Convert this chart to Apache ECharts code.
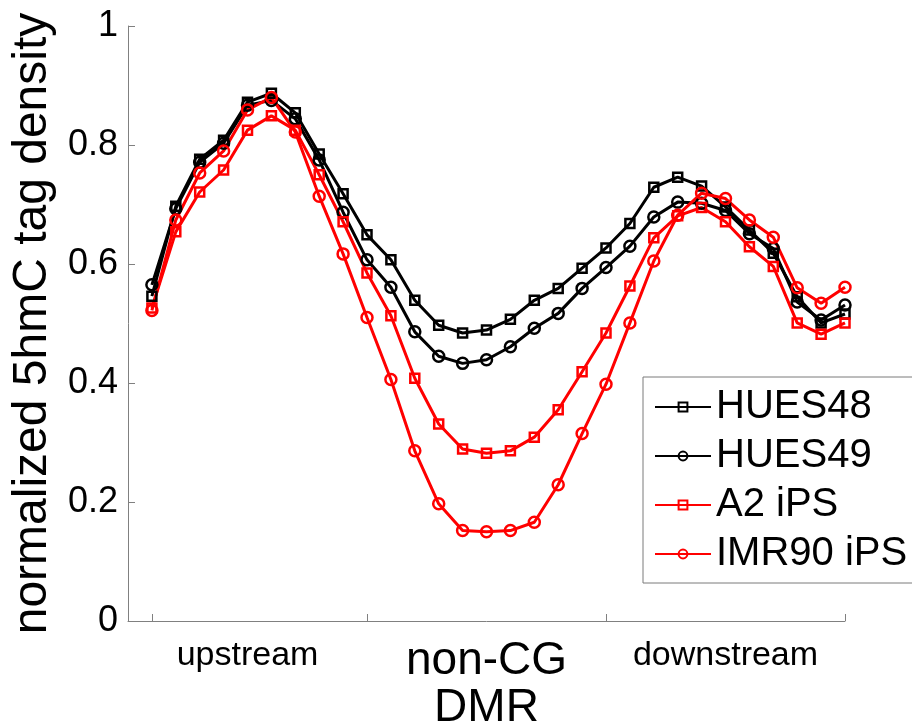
<!DOCTYPE html>
<html>
<head>
<meta charset="utf-8">
<script src="https://cdn.jsdelivr.net/npm/echarts@6/dist/echarts.min.js"></script>
<style>
html,body{margin:0;padding:0;background:#fff;}
#chart{width:912px;height:727px;}
</style>
</head>
<body>
<div id="chart"></div>
<script>
// ---- data ----
const positions = [1,2,3,4,5,6,7,8,9,10,11,12,13,14,15,16,17,18,19,20,21,22,23,24,25,26,27,28,29,30];
const seriesNames = ['HUES48', 'HUES49', 'A2 iPS', 'IMR90 iPS'];
const hues48 = [0.546,0.697,0.776,0.808,0.872,0.887,0.854,0.785,0.718,0.649,0.607,0.539,0.497,0.484,0.489,0.507,0.539,0.559,0.593,0.627,0.668,0.729,0.746,0.731,0.696,0.657,0.618,0.545,0.501,0.516];
const hues49 = [0.565,0.693,0.771,0.803,0.867,0.875,0.844,0.775,0.687,0.607,0.561,0.486,0.445,0.433,0.439,0.461,0.492,0.517,0.559,0.594,0.630,0.679,0.704,0.702,0.690,0.651,0.626,0.536,0.506,0.531];
const a2ips = [0.526,0.654,0.721,0.758,0.825,0.849,0.825,0.750,0.671,0.585,0.513,0.408,0.331,0.289,0.282,0.286,0.309,0.355,0.419,0.484,0.563,0.644,0.681,0.695,0.671,0.629,0.596,0.501,0.482,0.501];
const imr90ips = [0.522,0.674,0.753,0.790,0.859,0.880,0.822,0.714,0.617,0.510,0.406,0.286,0.197,0.152,0.150,0.152,0.166,0.229,0.315,0.398,0.501,0.605,0.682,0.719,0.710,0.674,0.645,0.560,0.534,0.561];
const sectionTicks = [1, 10, 20, 30];
const sectionLabelAt = [5, 15, 25];
const sectionLabels = ['upstream', 'non-CG\nDMR', 'downstream'];
const yTicks = [0, 0.2, 0.4, 0.6, 0.8, 1];
const yTitle = 'normalized 5hmC tag density';

// ---- chart ----
const FONT = '"Liberation Sans", Arial, Helvetica, sans-serif';
const chart = echarts.init(document.getElementById('chart'), null, {renderer: 'canvas'});

function pairs(vals) { return positions.map((x, i) => [x, vals[i]]); }

const styles = [
  {color: '#000000', symbol: 'rect', size: 9},
  {color: '#000000', symbol: 'circle', size: 11},
  {color: '#ff0000', symbol: 'rect', size: 9},
  {color: '#ff0000', symbol: 'circle', size: 11}
];
const valueSets = [hues48, hues49, a2ips, imr90ips];

const series = seriesNames.map((name, i) => ({
  name: name,
  type: 'line',
  data: pairs(valueSets[i]),
  symbol: styles[i].symbol,
  symbolSize: styles[i].size,
  showAllSymbol: true,
  animation: false,
  lineStyle: {color: styles[i].color, width: 3},
  itemStyle: {color: 'rgba(255,255,255,0)', borderColor: styles[i].color, borderWidth: 2.5},
  emphasis: {disabled: true}
}));

chart.setOption({
  backgroundColor: '#ffffff',
  animation: false,
  textStyle: {fontFamily: FONT},
  grid: {left: 128, top: 26, right: 67, bottom: 106, containLabel: false, outerBoundsMode: 'none'},
  legend: {
    orient: 'vertical',
    left: 643,
    top: 377,
    padding: [10, 14, 9, 11],
    itemGap: 9,
    itemWidth: 56,
    itemHeight: 11,
    backgroundColor: '#ffffff',
    borderColor: '#7a7a7a',
    borderWidth: 1,
    borderRadius: 0,
    selectedMode: false,
    textStyle: {fontSize: 40, lineHeight: 40, color: '#000', fontFamily: FONT},
    data: seriesNames
  },
  xAxis: {
    type: 'value',
    min: 0,
    max: 30,
    splitLine: {show: false},
    axisLine: {show: true, onZero: false, lineStyle: {color: '#808080', width: 1}},
    axisTick: {show: true, inside: true, length: 7, customValues: sectionTicks, lineStyle: {color: '#808080'}},
    axisLabel: {
      show: true,
      customValues: sectionLabelAt,
      margin: 17,
      color: '#000',
      fontFamily: FONT,
      fontSize: 34,
      verticalAlign: 'top',
      formatter: function (v) {
        const idx = sectionLabelAt.indexOf(v);
        const txt = idx >= 0 ? sectionLabels[idx] : '';
        if (txt.indexOf('\n') >= 0) {
          return txt.split('\n').map(s => '{big|' + s + '}').join('\n');
        }
        return '{small|' + txt + '}';
      },
      rich: {
        small: {fontSize: 34, lineHeight: 36, color: '#000', fontFamily: FONT},
        big: {fontSize: 46, lineHeight: 47, color: '#000', fontFamily: FONT}
      }
    }
  },
  yAxis: {
    type: 'value',
    min: yTicks[0],
    max: yTicks[yTicks.length - 1],
    interval: 0.2,
    name: yTitle,
    nameLocation: 'middle',
    nameRotate: 90,
    nameGap: 70,
    nameTextStyle: {fontSize: 48, color: '#000', fontFamily: FONT},
    splitLine: {show: false},
    axisLine: {show: true, lineStyle: {color: '#808080', width: 1}},
    axisTick: {show: true, inside: true, length: 7, lineStyle: {color: '#808080'}},
    axisLabel: {
      show: true,
      margin: 10,
      fontSize: 36,
      color: '#000',
      fontFamily: FONT,
      formatter: function (v) { return String(Math.round(v * 10) / 10); }
    }
  },
  series: series
});
</script>
</body>
</html>
